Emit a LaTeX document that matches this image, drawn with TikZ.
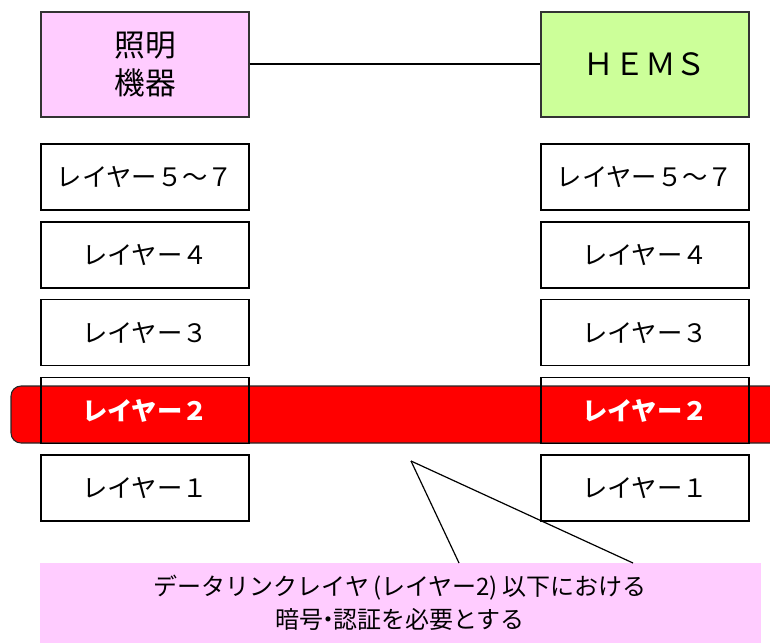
\documentclass[tikz,border=0pt]{standalone}
\usepackage{fontspec}
\newfontfamily\jp{Noto Sans CJK JP}
\definecolor{pinkbox}{RGB}{255,204,255}
\definecolor{greenbox}{RGB}{204,255,153}
\definecolor{bandred}{RGB}{255,0,0}
\begin{document}
\begin{tikzpicture}[x=0.75pt,y=-0.75pt,
  layer/.style={draw=black, line width=1.1pt, minimum width=156pt, minimum height=49.5pt, inner sep=0pt, fill=white, font=\jp\fontsize{19}{22}\selectfont},
  layertwo/.style={draw=black, line width=1.1pt, minimum width=156pt, minimum height=49.5pt, inner sep=0pt, text=white, font=\jp\bfseries\fontsize{19}{22}\selectfont},
  titlebox/.style={draw=black!80, line width=1.1pt, minimum width=156pt, minimum height=78.75pt, inner sep=0pt, align=center, font=\jp\fontsize{23}{28.5}\selectfont},
  conn/.style={draw=black, line width=1.5pt}]
\useasboundingbox (0,0) rectangle (770,642);
\clip (0,0) rectangle (770,642);
% title boxes
\node[titlebox, fill=pinkbox] (light) at (145,64.5) {照明\\機器};
\node[titlebox, fill=greenbox] (hems) at (645,64.5) {ＨＥＭＳ};
\draw[conn] (light.east) -- (hems.west);
% layers
\node[layer] (l57) at (145,177) {レイヤー５～７};
\node[layer] (l4) at (145,255) {レイヤー４};
\node[layer] (l3) at (145,332.5) {レイヤー３};
\node[layer] (l1) at (145,488) {レイヤー１};
\node[layer] (r57) at (645,177) {レイヤー５～７};
\node[layer] (r4) at (645,255) {レイヤー４};
\node[layer] (r3) at (645,332.5) {レイヤー３};
\node[layer] (r1) at (645,488) {レイヤー１};
% red band
\draw[fill=bandred, draw=black!85, line width=0.8pt, rounded corners=7.5pt] (11,386) rectangle (800,443);
\node[layertwo] (l2) at (145,410.5) {レイヤー２};
\node[layertwo] (r2) at (645,410.5) {レイヤー２};
% callout
\coordinate (apex) at (411,461);
\coordinate (c1) at (459,563);
\coordinate (c2) at (633,563);
\fill[pinkbox] (40,563) rectangle (761,660);
\draw[line width=0.9pt] (apex) -- (c1);
\draw[line width=0.9pt] (apex) -- (c2);
\node[align=center, font=\jp\fontsize{18}{24.75}\selectfont] (note) at (400,603) {データリンクレイヤ\,(レイヤー2)\,以下における\\暗号\kern-.3em・\kern-.3em認証を必要とする};
\end{tikzpicture}
\end{document}
